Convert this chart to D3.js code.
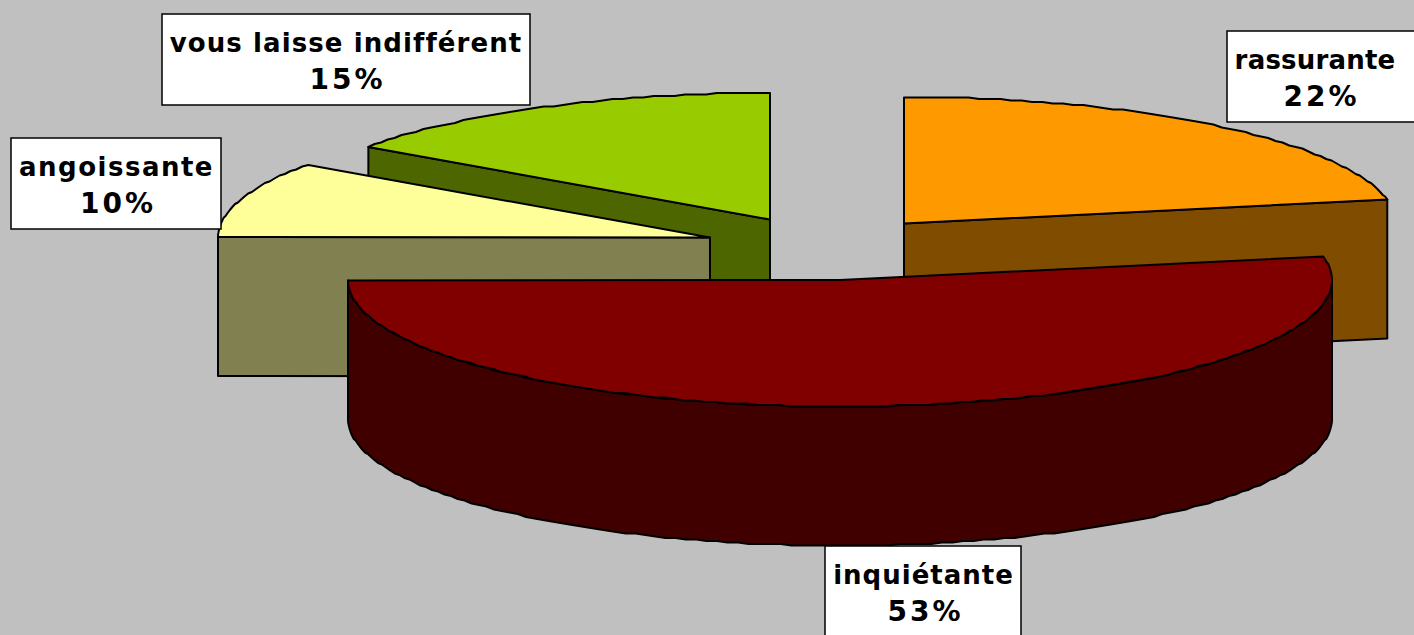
<!DOCTYPE html>
<html><head><meta charset="utf-8">
<script src="https://cdn.jsdelivr.net/npm/d3@7/dist/d3.min.js"></script>
<style>html,body{margin:0;padding:0;background:#c0c0c0;overflow:hidden}svg{display:block}</style>
</head><body><svg id="c" width="1414" height="635"></svg>
<script>
// Data
const categories = ["rassurante", "inquiétante", "angoissante", "vous laisse indifférent"];
const values = [22, 53, 9.8, 15.2];
const topColors = ["#ff9900", "#800000", "#ffff99", "#99cc00"];
const sideColors = ["#804c00", "#400000", "#808050", "#4d6600"];

// Layout (presentation only)
const W = 1414, H = 635, RX = 492, RY = 126.5, DEPTH = 139, SW = 2;
const apexes = [[904, 223.5], [840, 280], [710, 237.5], [770, 219.5]];
const labelBoxes = [[1227, 31, 200, 91], [825, 546, 196, 100], [11, 138, 210, 91], [162, 14, 368, 91]];
const nameCenters = [1315, 923.5, 116.5, 346];
const pctCenters = [1320, 924, 116.5, 346];
const nameSpacing = [0.2, 1, 1.5, 1.1];
const PCT_SPACING = 3;
const drawOrder = [3, 2, 0, 1];

const svg = d3.select("#c");
svg.append("rect").attr("width", W).attr("height", H).attr("fill", "#c0c0c0");

const TAU = 2 * Math.PI;
const arcs = d3.pie().sort(null).startAngle(0).endAngle(TAU)(values);
const sx = d3.scaleLinear().domain([-1, 1]).range([-RX, RX]);
const sy = d3.scaleLinear().domain([-1, 1]).range([RY, -RY]);
const path = d3.line();

function rim(c, a0, a1) {
  const n = Math.max(2, Math.ceil(Math.abs(a1 - a0) / 0.022));
  return d3.range(n + 1).map(i => {
    const a = a0 + (a1 - a0) * i / n;
    return [c[0] + sx(Math.sin(a)), Math.round((c[1] + sy(Math.cos(a))) / 1.5) * 1.5];
  });
}
const down = pts => pts.map(p => [p[0], p[1] + DEPTH]);
const EPS = 1e-6;

drawOrder.forEach(i => {
  const d = arcs[i], c = apexes[i], g = svg.append("g");
  const face = (pts, fill) => g.append("path").attr("d", path(pts) + "Z")
    .attr("fill", fill).attr("stroke", "#000").attr("stroke-width", SW).attr("stroke-linejoin", "round");
  const top = rim(c, d.startAngle, d.endAngle);
  const first = top[0], last = top[top.length - 1];
  // Cut walls that face the viewer
  const wall = e => face([c, e, [e[0], e[1] + DEPTH], [c[0], c[1] + DEPTH]], sideColors[i]);
  if (d.startAngle > Math.PI + EPS && d.startAngle < TAU - EPS) wall(first);
  if (d.endAngle > EPS && d.endAngle < Math.PI - EPS) wall(last);
  // Front curved wall, between 90deg and 270deg
  const a0 = Math.max(d.startAngle, Math.PI / 2), a1 = Math.min(d.endAngle, 3 * Math.PI / 2);
  if (a1 > a0) {
    const r = rim(c, a0, a1);
    face(r.concat(down(r).reverse()), sideColors[i]);
  }
  face([c].concat(top), topColors[i]);
});

// Labels
categories.forEach((name, i) => {
  const b = labelBoxes[i];
  const g = svg.append("g");
  g.append("rect").attr("x", b[0]).attr("y", b[1]).attr("width", b[2]).attr("height", b[3])
    .attr("fill", "#fff").attr("stroke", "#000").attr("stroke-width", 1.5);
  const t = g.append("text").attr("text-anchor", "middle")
    .attr("font-family", "'DejaVu Sans'").attr("font-weight", "bold").attr("fill", "#000");
  t.append("tspan").attr("x", nameCenters[i]).attr("y", b[1] + 38).attr("font-size", 26)
    .attr("letter-spacing", nameSpacing[i]).text(name);
  t.append("tspan").attr("x", pctCenters[i] + PCT_SPACING / 2).attr("y", b[1] + 75).attr("font-size", 28)
    .attr("letter-spacing", PCT_SPACING).text(Math.round(values[i]) + "%");
});
</script></body></html>
